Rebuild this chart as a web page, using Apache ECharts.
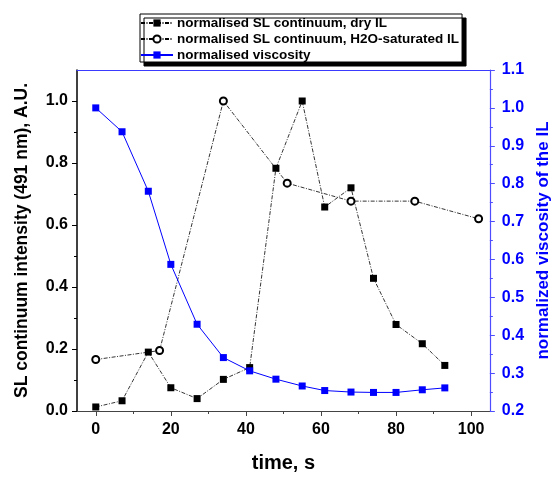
<!DOCTYPE html>
<html>
<head>
<meta charset="utf-8">
<script src="https://cdn.jsdelivr.net/npm/echarts@6/dist/echarts.min.js"></script>
<style>
  html, body { margin: 0; padding: 0; background: #fff; }
  #chart { width: 560px; height: 478px; }
</style>
</head>
<body>
<div id="chart"></div>
<script>
// time, s
var timesDry = [0, 7, 14, 20, 27, 34, 41, 48, 55, 61, 68, 74, 80, 87, 93];
var dryIL = [0.013, 0.033, 0.19, 0.075, 0.04, 0.102, 0.14, 0.783, 1.0, 0.658, 0.72, 0.428, 0.279, 0.217, 0.147];

var timesWet = [0, 17, 34, 51, 68, 85, 102];
var wetIL = [0.166, 0.195, 1.0, 0.735, 0.677, 0.677, 0.62];

var timesVisc = [0, 7, 14, 20, 27, 34, 41, 48, 55, 61, 68, 74, 80, 87, 93];
var viscosity = [1.0, 0.937, 0.78, 0.587, 0.429, 0.341, 0.306, 0.284, 0.266, 0.254, 0.25, 0.249, 0.249, 0.256, 0.261];

var xMajor = [0, 20, 40, 60, 80, 100];
var xMinor = [10, 30, 50, 70, 90];
var leftTicks = [0, 0.2, 0.4, 0.6, 0.8, 1.0];

var names = ['normalised SL continuum, dry IL', 'normalised SL continuum, H2O-saturated IL', 'normalised viscosity'];

function pairs(xs, ys) {
    return xs.map(function (x, i) { return [x, ys[i]]; });
}

var font = 'Liberation Sans, Arial, sans-serif';
var blue = '#0000ff';

var chart = echarts.init(document.getElementById('chart'));
option = {
    animation: false,
    textStyle: { fontFamily: font },
    grid: { left: 77, right: 58, top: 70, bottom: 64.5 },
    legend: {
        orient: 'vertical',
        left: 140, top: 14,
        padding: [2, 3, 0, 0],
        itemGap: 2,
        itemWidth: 32, itemHeight: 9,
        backgroundColor: '#fff',
        borderColor: '#000', borderWidth: 1,
        shadowColor: '#000', shadowBlur: 0, shadowOffsetX: 4, shadowOffsetY: 4,
        textStyle: { fontSize: 13.5, fontWeight: 'bold', color: '#000', fontFamily: font, padding: [0, 0, 0, -1] },
        data: names
    },
    xAxis: [
        {
            type: 'value', min: -5, max: 105, position: 'bottom',
            name: 'time, s', nameLocation: 'middle', nameGap: 42,
            nameTextStyle: { fontSize: 20, fontWeight: 'bold', color: '#000' },
            axisLine: { onZero: false, lineStyle: { color: '#444', width: 1.2 } },
            axisTick: { customValues: xMajor, length: 5, lineStyle: { color: '#444' } },
            axisLabel: { customValues: xMajor, margin: 11, fontSize: 16, fontWeight: 'bold', color: '#000' },
            splitLine: { show: false }
        },
        {
            // minor ticks
            type: 'value', min: -5, max: 105, position: 'bottom',
            axisLine: { show: false, onZero: false },
            axisTick: { customValues: xMinor, length: 3, lineStyle: { color: '#444' } },
            axisLabel: { show: false },
            splitLine: { show: false }
        },
        {
            // top frame line
            type: 'value', min: -5, max: 105, position: 'top',
            axisLine: { show: true, onZero: false, lineStyle: { color: '#3a3aff', width: 1 } },
            axisTick: { show: false },
            axisLabel: { show: false },
            splitLine: { show: false }
        }
    ],
    yAxis: [
        {
            type: 'value', min: 0, max: 1.1, interval: 0.2, position: 'left',
            name: 'SL continuum intensity (491 nm), A.U.', nameLocation: 'middle', nameGap: 46, nameRotate: 90,
            nameTextStyle: { fontSize: 17.5, fontWeight: 'bold', color: '#000' },
            axisLine: { show: true, onZero: false, lineStyle: { color: '#000', width: 1.5 } },
            axisTick: { customValues: leftTicks, length: 5, lineStyle: { color: '#000' } },
            minorTick: { show: true, splitNumber: 2, length: 3, lineStyle: { color: '#000' } },
            axisLabel: {
                customValues: leftTicks, margin: 9, fontSize: 16, fontWeight: 'bold', color: '#000',
                formatter: function (v) { return v.toFixed(1); }
            },
            splitLine: { show: false }
        },
        {
            type: 'value', min: 0.2, max: 1.1, interval: 0.1, position: 'right',
            name: 'normalized viscosity of the IL', nameLocation: 'middle', nameGap: 42, nameRotate: 90,
            nameTextStyle: { fontSize: 17, fontWeight: 'bold', color: blue },
            axisLine: { show: true, onZero: false, lineStyle: { color: '#4d4dff', width: 1.2 } },
            axisTick: { length: 5, lineStyle: { color: '#4d4dff' } },
            minorTick: { show: true, splitNumber: 2, length: 3, lineStyle: { color: '#4d4dff' } },
            axisLabel: {
                margin: 12, fontSize: 16, fontWeight: 'bold', color: blue,
                formatter: function (v) { return v.toFixed(1); }
            },
            splitLine: { show: false }
        }
    ],
    series: [
        {
            name: names[0], type: 'line', xAxisIndex: 0, yAxisIndex: 0,
            data: pairs(timesDry, dryIL),
            symbol: 'rect', symbolSize: 7,
            itemStyle: { color: '#000' },
            lineStyle: { color: '#000', width: 0.8, type: [4, 1.5, 1, 1.5] }
        },
        {
            name: names[1], type: 'line', xAxisIndex: 0, yAxisIndex: 0,
            data: pairs(timesWet, wetIL),
            symbol: 'emptyCircle', symbolSize: 7,
            itemStyle: { color: '#000', borderWidth: 1 },
            lineStyle: { color: '#000', width: 0.8, type: [4, 1.5, 1, 1.5] }
        },
        {
            name: names[2], type: 'line', xAxisIndex: 0, yAxisIndex: 1,
            data: pairs(timesVisc, viscosity),
            symbol: 'rect', symbolSize: 7,
            itemStyle: { color: blue },
            lineStyle: { color: blue, width: 1 }
        }
    ]
};
chart.setOption(option);
</script>
</body>
</html>
